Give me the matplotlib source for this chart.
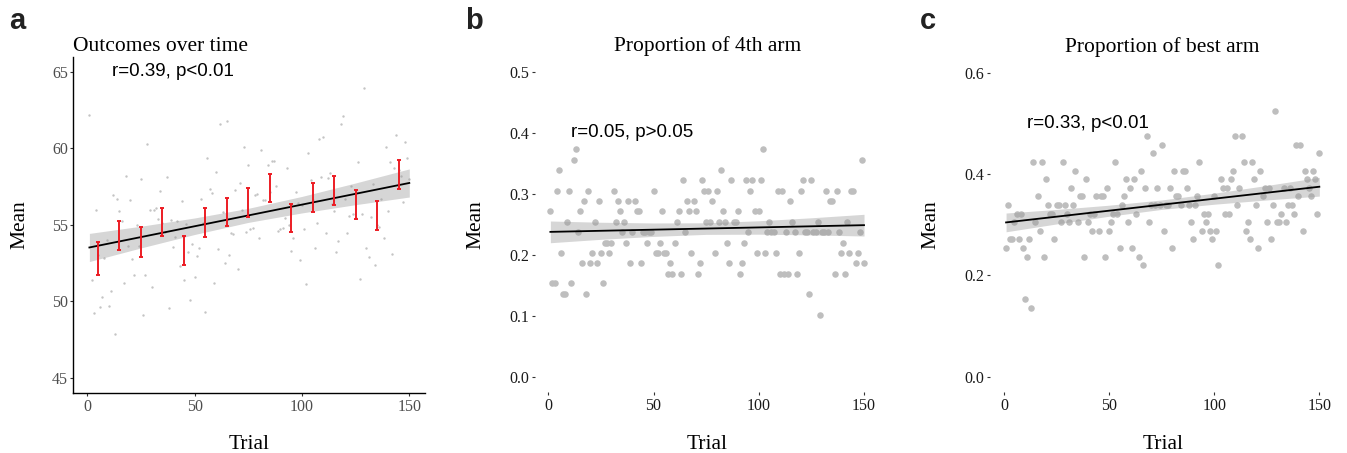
import numpy as np
import matplotlib
matplotlib.use("Agg")
import matplotlib.pyplot as plt

plt.rcParams["font.family"] = ["Liberation Serif", "DejaVu Serif"]

W, H = 1347, 453

trial = np.arange(1, 151)

# --- panel a: mean outcome per trial ---
outcome = [
    62.17, 51.37, 49.24, 55.98, 53.00, 49.63, 50.26, 52.83, 54.02, 49.72,
    50.67, 56.96, 47.87, 56.70, 55.93, 55.26, 51.17, 58.22, 53.59, 56.63,
    52.78, 51.74, 54.96, 53.63, 58.00, 49.07, 51.72, 60.28, 55.98, 50.93,
    55.98, 56.13, 55.39, 57.20, 55.11, 54.52, 58.15, 49.59, 55.33, 53.52,
    54.20, 55.26, 52.28, 56.54, 51.41, 55.07, 53.24, 50.11, 53.74, 51.61,
    52.93, 53.48, 56.67, 55.09, 49.30, 59.35, 57.35, 57.07, 51.20, 58.48,
    53.43, 61.59, 55.83, 52.48, 61.80, 53.02, 54.46, 54.39, 57.28, 52.11,
    57.76, 55.96, 60.11, 54.50, 58.93, 54.72, 54.78, 56.96, 57.04, 54.17,
    59.89, 56.63, 56.61, 58.89, 57.13, 59.15, 59.20, 57.52, 54.59, 54.74,
    54.80, 55.46, 58.74, 55.00, 53.30, 54.15, 57.15, 56.43, 52.72, 56.33,
    54.72, 51.13, 59.72, 57.93, 56.63, 53.46, 55.11, 60.61, 58.15, 60.76,
    54.46, 58.09, 58.41, 56.37, 55.89, 53.22, 53.93, 61.63, 62.13, 56.70,
    54.46, 55.59, 57.54, 55.70, 55.48, 59.11, 51.46, 55.74, 63.98, 53.46,
    52.89, 55.50, 57.65, 52.37, 54.96, 54.89, 56.72, 54.15, 60.07, 55.91,
    59.11, 53.11, 58.72, 60.89, 58.59, 58.17, 56.52, 60.43, 59.37, 58.00,
]
bin_x = [5, 15, 25, 35, 45, 55, 65, 75, 85, 95, 105, 115, 125, 135, 145]
bin_lo = [51.72, 53.37, 52.91, 54.26, 52.39, 54.20, 54.91, 55.52, 56.50, 54.50,
          55.85, 56.30, 55.39, 54.67, 57.33]
bin_hi = [53.85, 55.22, 54.89, 56.13, 54.30, 56.13, 56.78, 57.41, 58.35, 56.39,
          57.76, 58.22, 57.30, 56.59, 59.24]

# --- panel b: proportion of 4th arm ---
prop_4th = [
    .271, .153, .153, .305, .339, .203, .136, .136, .254, .305,
    .153, .356, .373, .237, .271, .186, .288, .136, .305, .186,
    .203, .254, .186, .288, .203, .153, .220, .220, .203, .220,
    .305, .254, .288, .271, .237, .254, .220, .288, .186, .237,
    .288, .271, .271, .186, .237, .237, .220, .237, .237, .305,
    .203, .203, .220, .271, .203, .203, .169, .186, .169, .220,
    .254, .271, .169, .322, .237, .288, .271, .203, .288, .271,
    .169, .186, .322, .305, .254, .305, .254, .288, .203, .305,
    .254, .339, .271, .254, .220, .186, .322, .254, .254, .271,
    .169, .186, .220, .322, .237, .305, .322, .271, .203, .271,
    .322, .373, .203, .237, .254, .237, .237, .203, .305, .169,
    .305, .169, .237, .169, .288, .254, .237, .169, .203, .305,
    .322, .237, .237, .136, .322, .237, .237, .254, .102, .237,
    .237, .305, .237, .288, .288, .169, .305, .237, .203, .220,
    .169, .254, .203, .305, .305, .186, .203, .237, .356, .186,
]

# --- panel c: proportion of best arm ---
prop_best = [
    .254, .339, .271, .271, .305, .322, .271, .322, .254, .153,
    .237, .271, .136, .424, .305, .356, .288, .424, .237, .390,
    .339, .322, .322, .271, .339, .339, .305, .424, .339, .322,
    .305, .373, .339, .407, .305, .356, .356, .237, .390, .305,
    .322, .288, .322, .356, .288, .356, .356, .237, .373, .288,
    .305, .322, .424, .322, .254, .339, .356, .390, .305, .373,
    .254, .390, .322, .237, .407, .220, .373, .475, .305, .339,
    .441, .339, .373, .339, .458, .288, .339, .339, .373, .254,
    .407, .356, .356, .339, .407, .407, .373, .339, .305, .271,
    .339, .356, .424, .288, .322, .305, .322, .288, .271, .356,
    .288, .220, .390, .373, .322, .373, .322, .390, .407, .475,
    .339, .373, .475, .424, .288, .305, .271, .424, .390, .339,
    .254, .407, .356, .373, .305, .373, .271, .339, .525, .305,
    .305, .322, .373, .305, .339, .373, .339, .322, .458, .356,
    .458, .288, .407, .390, .373, .356, .407, .390, .322, .441,
]

# linear fits (endpoints) and confidence band
fit_x = [1, 150]
fit_a = [53.52, 57.74]
fit_b = [0.2375, 0.2485]
fit_c = [0.3046, 0.3750]
band_x = [1, 25, 50, 75, 100, 125, 150]
band_a_lo = [52.60, 53.49, 54.37, 55.16, 55.78, 56.32, 56.82]
band_a_hi = [54.44, 54.91, 55.45, 56.08, 56.86, 57.74, 58.66]
band_b_lo = [0.2197, 0.2253, 0.2301, 0.2334, 0.2337, 0.2326, 0.2307]
band_b_hi = [0.2553, 0.2533, 0.2521, 0.2524, 0.2557, 0.2606, 0.2663]
band_c_lo = [0.2861, 0.3016, 0.3168, 0.3303, 0.3405, 0.3489, 0.3565]
band_c_hi = [0.3231, 0.3302, 0.3386, 0.3489, 0.3623, 0.3775, 0.3935]

fig = plt.figure(figsize=(W / 100, H / 100), dpi=100)


def px_axes(l, r, t, b):
    return fig.add_axes([l / W, 1 - b / H, (r - l) / W, (b - t) / H])


ax_a = px_axes(73.4, 425.3, 56.7, 393.0)
ax_b = px_axes(534.7, 879.7, 56.5, 392.0)
ax_c = px_axes(990.4, 1335.0, 57.5, 392.0)

band_col = "#999999"

# a
ax_a.scatter(trial, outcome, s=3, color="#c4c4c4", linewidths=0, zorder=1)
ax_a.fill_between(band_x, band_a_lo, band_a_hi, color=band_col, alpha=0.4,
                  linewidth=0, zorder=2)
ax_a.plot(fit_x, fit_a, color="black", lw=1.3, zorder=3)
bin_mid = (np.array(bin_lo) + np.array(bin_hi)) / 2
bin_err = (np.array(bin_hi) - np.array(bin_lo)) / 2
ax_a.errorbar(bin_x, bin_mid, yerr=bin_err, fmt="none", ecolor="#ec1c24",
              elinewidth=1.4, capsize=1.6, capthick=1.4, zorder=4)
ax_a.set_ylim(44, 66)
ax_a.set_yticks([45, 50, 55, 60, 65])
ax_a.text(40, 65, "r=0.39, p<0.01", ha="center", va="center", fontsize=13.5,
          family=["Liberation Sans", "DejaVu Sans"])
ax_a.set_title("Outcomes over time", loc="left", fontsize=15.5, pad=4)
for s in ["top", "right"]:
    ax_a.spines[s].set_visible(False)
for s in ["left", "bottom"]:
    ax_a.spines[s].set_linewidth(1.0)
ax_a.tick_params(length=2, width=0.8, color="#333333", labelcolor="#4d4d4d",
                 labelsize=11.5, pad=2)

# b, c
for ax, y, fit, lo, hi, lim, ticks, txt, ty, title in [
    (ax_b, prop_4th, fit_b, band_b_lo, band_b_hi, (-0.025, 0.525),
     [0, 0.1, 0.2, 0.3, 0.4, 0.5], "r=0.05, p>0.05", 0.4, "Proportion of 4th arm"),
    (ax_c, prop_best, fit_c, band_c_lo, band_c_hi, (-0.03, 0.63),
     [0, 0.2, 0.4, 0.6], "r=0.33, p<0.01", 0.5, "Proportion of best arm"),
]:
    ax.scatter(trial, y, s=22, color="#bebebe", linewidths=0, zorder=1)
    ax.fill_between(band_x, lo, hi, color=band_col, alpha=0.4, linewidth=0,
                    zorder=2)
    ax.plot(fit_x, fit, color="black", lw=1.3, zorder=3)
    ax.set_ylim(*lim)
    ax.set_yticks(ticks)
    ax.set_yticklabels([f"{v:.1f}" for v in ticks])
    ax.text(40, ty, txt, ha="center", va="center", fontsize=13.5,
            family=["Liberation Sans", "DejaVu Sans"])
    ax.set_title(title, fontsize=15.5, pad=4)
    for s in ax.spines.values():
        s.set_visible(False)
    ax.tick_params(length=2.2, width=0.8, color="#333333", labelcolor="#1a1a1a",
                   labelsize=11.5, pad=2)

for ax in [ax_a, ax_b, ax_c]:
    ax.set_xlim(-6.45, 157.45)
    ax.set_xticks([0, 50, 100, 150])

# axis labels and panel letters
for cx, lx in [(19.5, 249.4), (476, 707.2), (931, 1162.7)]:
    fig.text(cx / W, 1 - 225 / H, "Mean", rotation=90, ha="center",
             va="center", fontsize=15.5)
    fig.text(lx / W, 1 - 449 / H, "Trial", ha="center", va="baseline",
             fontsize=15.5)
for x, lab in [(9, "a"), (465, "b"), (920, "c")]:
    fig.text(x / W, 1 - 29 / H, lab, ha="left", va="baseline", fontsize=21,
             fontweight="bold", family=["Liberation Sans", "DejaVu Sans"],
             color="#222222")

fig.savefig("out.png", dpi=100)
